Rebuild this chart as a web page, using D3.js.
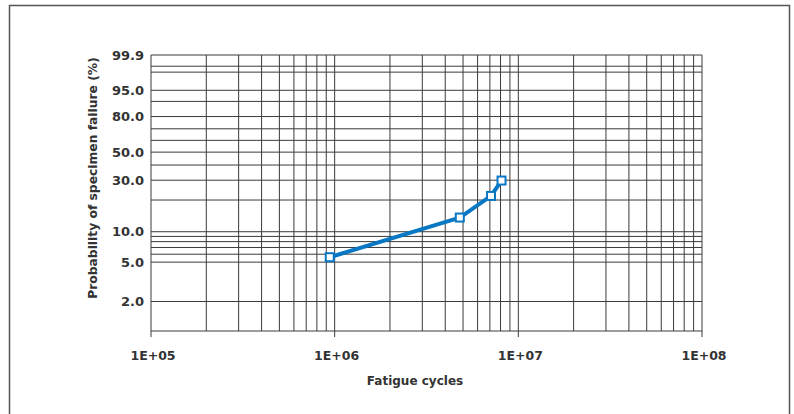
<!DOCTYPE html>
<html>
<head>
<meta charset="utf-8">
<script src="https://cdn.jsdelivr.net/npm/d3@7"></script>
<style>
  body { margin: 0; background: #fff; }
  text { font-family: "DejaVu Sans", sans-serif; font-weight: bold; fill: #333; }
</style>
</head>
<body>
<script>
// fatigue test results, median ranks
const cycles = [9.4e5, 4.8e6, 7.1e6, 8.1e6];
const failurePct = [5.6, 13.7, 21.8, 29.8];

const yTickLabels = [99.9, 95, 80, 50, 30, 10, 5, 2];
const yGridValues = [99.9, 99.5, 99, 95, 90, 80, 70, 60, 50, 40, 30, 20, 10, 9, 8, 7, 6, 5, 2, 1];
const xTickValues = [1e5, 1e6, 1e7, 1e8];
const xTickLabels = ["1E+05", "1E+06", "1E+07", "1E+08"];

const w = 794, h = 414;
const plotL = 151, plotR = 702, plotT = 55, plotB = 331;

const svg = d3.select("body").append("svg")
  .attr("width", w)
  .attr("height", h);

svg.append("rect")
  .attr("x", 9.5).attr("y", 5.5)
  .attr("width", 780).attr("height", 420)
  .attr("fill", "none")
  .attr("stroke", "#555")
  .attr("stroke-width", 1.5);

// weibull probability transform
const weib = p => Math.log(-Math.log(1 - p / 100));

const x = d3.scaleLog().domain([1e5, 1e8]).range([plotL, plotR]);
const y = d3.scaleLinear().domain([weib(1), weib(99.9)]).range([plotB, plotT]);

const grid = svg.append("g");

grid.selectAll("line.v")
  .data(x.ticks())
  .join("line")
  .attr("class", "v")
  .attr("x1", d => x(d)).attr("x2", d => x(d))
  .attr("y1", plotT).attr("y2", plotB)
  .attr("stroke", "#3a3a3a")
  .attr("stroke-width", 1);

grid.selectAll("line.h")
  .data(yGridValues)
  .join("line")
  .attr("class", "h")
  .attr("x1", plotL).attr("x2", plotR)
  .attr("y1", d => y(weib(d))).attr("y2", d => y(weib(d)))
  .attr("stroke", "#3a3a3a")
  .attr("stroke-width", 1);

// little ticks under the decades
svg.selectAll("line.tick")
  .data(xTickValues)
  .join("line")
  .attr("class", "tick")
  .attr("x1", d => x(d)).attr("x2", d => x(d))
  .attr("y1", plotB).attr("y2", plotB + 6)
  .attr("stroke", "#3a3a3a");

svg.selectAll("text.xt")
  .data(xTickValues)
  .join("text")
  .attr("class", "xt")
  .attr("x", d => x(d) + 2)
  .attr("y", 360)
  .attr("text-anchor", "middle")
  .style("font-size", "12.5px")
  .text((d, i) => xTickLabels[i]);

svg.selectAll("text.yt")
  .data(yTickLabels)
  .join("text")
  .attr("class", "yt")
  .attr("x", 144)
  .attr("y", d => y(weib(d)))
  .attr("dy", "0.35em")
  .attr("text-anchor", "end")
  .style("font-size", "13px")
  .text(d => d.toFixed(1));

svg.append("text")
  .attr("x", 415).attr("y", 385)
  .attr("text-anchor", "middle")
  .style("font-size", "12px")
  .text("Fatigue cycles");

svg.append("text")
  .attr("transform", "translate(97,178) rotate(-90)")
  .attr("text-anchor", "middle")
  .style("font-size", "12.3px")
  .text("Probability of specimen failure (%)");

const pts = cycles.map((c, i) => [c, failurePct[i]]);

svg.append("path")
  .datum(pts)
  .attr("fill", "none")
  .attr("stroke", "#0878c4")
  .attr("stroke-width", 4)
  .attr("stroke-linejoin", "round")
  .attr("d", d3.line().x(d => x(d[0])).y(d => y(weib(d[1]))));

svg.selectAll("rect.pt")
  .data(pts)
  .join("rect")
  .attr("class", "pt")
  .attr("x", d => x(d[0]) - 4)
  .attr("y", d => y(weib(d[1])) - 4)
  .attr("width", 8).attr("height", 8)
  .attr("fill", "#fff")
  .attr("stroke", "#0878c4")
  .attr("stroke-width", 2);
</script>
</body>
</html>
